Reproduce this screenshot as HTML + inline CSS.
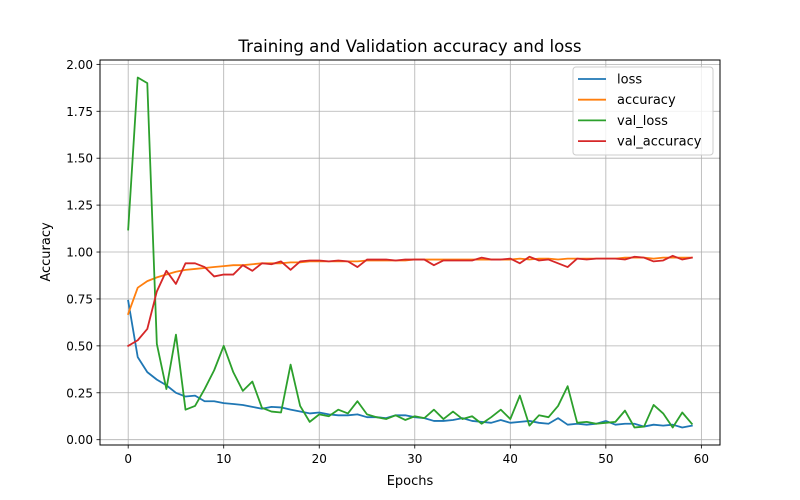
<!DOCTYPE html>
<html><head><meta charset="utf-8"><style>
html,body{margin:0;padding:0;background:#fff;}
svg{display:block;font-family:"DejaVu Sans","Liberation Sans",sans-serif;}
</style></head><body>
<svg id="chart" width="800" height="500" viewBox="0 0 800 500" xmlns="http://www.w3.org/2000/svg">
<rect width="800" height="500" fill="#fff"/>
<text x="410" y="52" text-anchor="middle" font-size="16.6">Training and Validation accuracy and loss</text>
<g id="grid"></g>
<g id="series"></g>
<rect x="100" y="60" width="620" height="385" fill="none" stroke="#000" stroke-width="1"/>
<g id="ticks"></g>
<text x="410" y="485" text-anchor="middle" font-size="13">Epochs</text>
<text x="0" y="0" transform="translate(50,252) rotate(-90)" text-anchor="middle" font-size="13">Accuracy</text>
<g id="legend">
<rect x="573" y="67" width="140" height="88" rx="3" fill="#fff" fill-opacity="0.8" stroke="#ccc"/>
</g>
</svg>
<script>
const lossVals=[0.74,0.44,0.36,0.32,0.29,0.25,0.23,0.235,0.205,0.205,0.195,0.19,0.185,0.175,0.165,0.175,0.172,0.16,0.15,0.14,0.145,0.135,0.13,0.13,0.135,0.12,0.12,0.115,0.13,0.13,0.12,0.115,0.10,0.10,0.105,0.115,0.10,0.095,0.09,0.105,0.09,0.095,0.1,0.09,0.085,0.115,0.08,0.085,0.08,0.085,0.10,0.08,0.085,0.085,0.07,0.08,0.075,0.08,0.065,0.075];
const accVals=[0.67,0.81,0.845,0.865,0.88,0.895,0.905,0.91,0.915,0.92,0.925,0.93,0.93,0.935,0.94,0.94,0.94,0.945,0.945,0.95,0.95,0.95,0.95,0.95,0.95,0.955,0.955,0.955,0.955,0.955,0.96,0.96,0.96,0.96,0.96,0.96,0.96,0.96,0.96,0.96,0.96,0.965,0.96,0.965,0.965,0.96,0.965,0.965,0.965,0.965,0.965,0.965,0.97,0.97,0.97,0.965,0.97,0.97,0.97,0.97];
const valLossVals=[1.12,1.93,1.90,0.51,0.27,0.56,0.16,0.18,0.27,0.37,0.50,0.36,0.26,0.31,0.17,0.15,0.145,0.40,0.18,0.095,0.135,0.125,0.16,0.14,0.205,0.135,0.12,0.11,0.13,0.105,0.125,0.115,0.16,0.11,0.15,0.11,0.125,0.085,0.12,0.16,0.11,0.235,0.075,0.13,0.12,0.18,0.285,0.09,0.095,0.085,0.09,0.095,0.155,0.065,0.07,0.185,0.14,0.065,0.145,0.085];
const valAccVals=[0.50,0.53,0.59,0.79,0.90,0.83,0.94,0.94,0.92,0.87,0.88,0.88,0.93,0.90,0.94,0.935,0.95,0.905,0.95,0.955,0.955,0.95,0.955,0.95,0.92,0.96,0.96,0.96,0.955,0.96,0.96,0.96,0.93,0.955,0.955,0.955,0.955,0.97,0.96,0.96,0.965,0.94,0.975,0.955,0.96,0.94,0.92,0.965,0.96,0.965,0.965,0.965,0.96,0.975,0.97,0.95,0.955,0.98,0.96,0.97];
const seriesNames=["loss","accuracy","val_loss","val_accuracy"];
const seriesColors=["#1f77b4","#ff7f0e","#2ca02c","#d62728"];
const xTicks=[0,10,20,30,40,50,60];
const yTicks=[0,0.25,0.5,0.75,1.0,1.25,1.5,1.75,2.0];

const NS="http://www.w3.org/2000/svg";
const all=[lossVals,accVals,valLossVals,valAccVals];
const n=lossVals.length;
const X0=100,X1=720,Y0=445,Y1=60;
const xmin=-0.05*(n-1),xmax=(n-1)*1.05;
let dmin=Infinity,dmax=-Infinity;
all.forEach(s=>s.forEach(v=>{dmin=Math.min(dmin,v);dmax=Math.max(dmax,v);}));
const ymin=dmin-0.05*(dmax-dmin),ymax=dmax+0.05*(dmax-dmin);
function xs(v){return X0+(v-xmin)/(xmax-xmin)*(X1-X0);}
function ys(v){return Y0-(v-ymin)/(ymax-ymin)*(Y0-Y1);}
function mk(tag,attrs,parent){const e=document.createElementNS(NS,tag);for(const k in attrs)e.setAttribute(k,attrs[k]);parent.appendChild(e);return e;}
const grid=document.getElementById('grid'),ticks=document.getElementById('ticks'),ser=document.getElementById('series'),leg=document.getElementById('legend');
xTicks.forEach(t=>{
  const x=xs(t);
  const g=mk('line',{x1:x,x2:x,y1:Y1,y2:Y0,stroke:'#b0b0b0','stroke-width':0.8},grid);
  
  
  const tk=mk('line',{x1:x,x2:x,y1:Y0,y2:Y0+3.5,stroke:'#000','stroke-width':0.8},ticks);
  
  
  const lb=mk('text',{x:x,y:Y0+18,'text-anchor':'middle','font-size':12},ticks);
  lb.textContent=String(t);
  
  
});
yTicks.forEach(t=>{
  const y=ys(t);
  const g=mk('line',{x1:X0,x2:X1,y1:y,y2:y,stroke:'#b0b0b0','stroke-width':0.8},grid);
  
  
  const tk=mk('line',{x1:X0-3.5,x2:X0,y1:y,y2:y,stroke:'#000','stroke-width':0.8},ticks);
  
  
  const lb=mk('text',{x:X0-7,y:y+4.5,'text-anchor':'end','font-size':12},ticks);
  lb.textContent=t.toFixed(2);
  
  
});
all.forEach((s,i)=>{
  const d=s.map((v,j)=>(j?'L':'M')+xs(j).toFixed(2)+','+ys(v).toFixed(2)).join(' ');
  const p=mk('path',{d:d,fill:'none',stroke:seriesColors[i],'stroke-width':1.8,'stroke-linejoin':'round','stroke-linecap':'square'},ser);
  
  
  const ly=79+i*20.7;
  const ll=mk('line',{x1:578,x2:606,y1:ly,y2:ly,stroke:seriesColors[i],'stroke-width':1.8},leg);
  
  
  const lt=mk('text',{x:617,y:ly+4.5,'font-size':13},leg);
  lt.textContent=seriesNames[i];
  
  
});
</script>
</body></html>
